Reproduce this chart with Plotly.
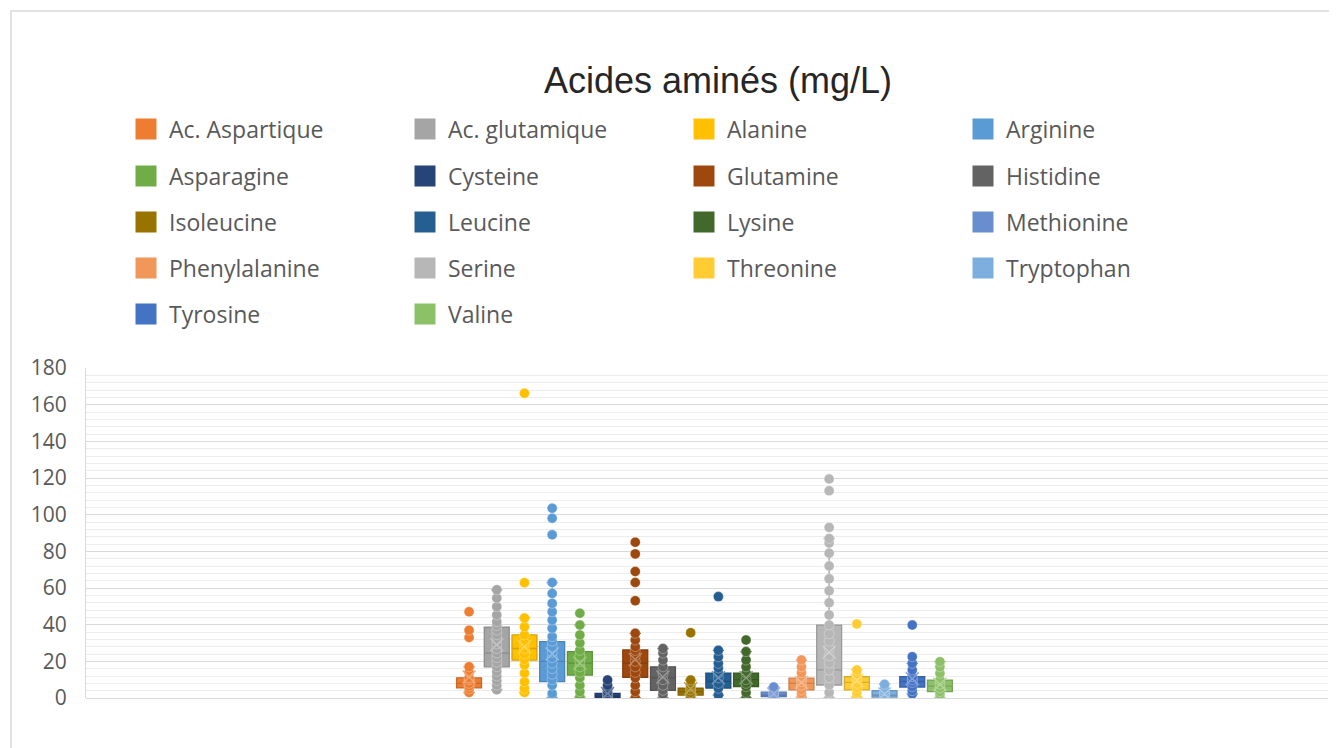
import plotly.graph_objects as go

# ---------------- data ----------------
amino_acids = ["Ac. Aspartique", "Ac. glutamique", "Alanine", "Arginine", "Asparagine",
               "Cysteine", "Glutamine", "Histidine", "Isoleucine", "Leucine", "Lysine",
               "Methionine", "Phenylalanine", "Serine", "Threonine", "Tryptophan",
               "Tyrosine", "Valine"]

colors = ["#ED7D31", "#A5A5A5", "#FFC000", "#5B9BD5", "#70AD47", "#264478",
          "#9E480E", "#636363", "#997300", "#255E91", "#43682B", "#698ED0",
          "#F1975A", "#B7B7B7", "#FFCD33", "#7CAFDD", "#4472C4", "#8CC168"]

q1 = [5.5, 17, 20.7, 8.9, 12.5, 0.3, 11.3, 4.2, 1.6, 5.4, 6.2, 0.7, 4.4, 7.1, 4.4, 0.5, 6, 3.5]
median = [8, 24.5, 27, 20, 19, 1, 19, 11, 3.5, 9, 10, 1.5, 8, 15.3, 8.5, 1.5, 9, 6.5]
q3 = [11, 38.7, 34.4, 30.7, 25.3, 2.5, 26.2, 17, 5.4, 13.6, 13.6, 3.2, 10.8, 39.8, 11.6, 4, 11.6, 9.8]
whisker_low = [3, 4.5, 3, 0, 0.5, 0, 0, 0, 0, 1.6, 0, 0, 0.5, 0, 0.5, 0, 2.2, 0]
whisker_high = [17, 59, 43.6, 63, 39.8, 5, 35.3, 27, 9.8, 26, 25.3, 6, 20.7, 87, 15.3, 7.5, 18.9, 19.8]
means = [11.5, 29, 28, 24, 19, 2.5, 21, 11.5, 5, 11, 11, 2.2, 8.5, 25, 9.5, 2.2, 10.5, 7.5]

pts_aspartique = [3, 5, 6.5, 8, 10, 11, 14, 17, 33, 37, 47]
pts_glutamique = [4.5, 7, 9.5, 12, 14.5, 17, 19.5, 22, 24.5, 27, 29.5, 32, 34.5, 37, 39.5,
                  41.6, 45.3, 49.8, 54.5, 59]
pts_alanine = [3, 5.3, 8.9, 13.5, 18, 21, 24, 27, 30, 34.4, 38.9, 43.6, 62.9, 166.2]
pts_arginine = [0, 2.5, 7, 10, 13, 16, 19, 22, 25, 28, 31, 33.5, 38, 42.5, 47, 51.6, 57, 63,
                89, 98, 103.5]
pts_asparagine = [0.5, 3.5, 7, 11, 14, 17, 20, 23, 26, 30, 34.4, 39.8, 46.2]
pts_cysteine = [0, 0.7, 1.5, 2.5, 3.5, 5, 7, 9.8]
pts_glutamine = [0, 3.5, 7, 11, 14, 17, 20, 23, 26, 28, 31.6, 35.3, 53, 63, 69, 78.6, 85]
pts_histidine = [0, 2, 4.2, 7, 10, 13.5, 17, 20.7, 24.5, 27]
pts_isoleucine = [0, 1.6, 3, 4.5, 6, 7, 9.8, 35.6]
pts_leucine = [1.6, 5.3, 8, 11, 13.5, 16.4, 18.9, 22.5, 26, 55.3]
pts_lysine = [0, 3, 6.2, 8, 10, 13.6, 17, 20.7, 25.3, 31.6]
pts_methionine = [0, 1, 2, 3.2, 4.5, 6]
pts_phenylalanine = [0.5, 2.5, 4.4, 7, 9, 10.8, 13.8, 17, 20.7]
pts_serine = [0, 3, 7.1, 11, 15.3, 19, 23, 27, 31, 35, 39.8, 45.3, 52, 58.5, 65, 72, 79,
              84.5, 87, 93, 113, 119.5]
pts_threonine = [0.5, 3, 5.5, 8, 11, 13, 15.3, 40.4]
pts_tryptophan = [0, 1, 2.5, 4, 5.5, 7.5]
pts_tyrosine = [2.2, 4, 6.2, 8.5, 10, 11.6, 15.3, 18.9, 22.5, 39.8]
pts_valine = [0, 2, 3.5, 5.5, 7.5, 9.8, 13.5, 17, 19.8]

points = [pts_aspartique, pts_glutamique, pts_alanine, pts_arginine, pts_asparagine,
          pts_cysteine, pts_glutamine, pts_histidine, pts_isoleucine, pts_leucine,
          pts_lysine, pts_methionine, pts_phenylalanine, pts_serine, pts_threonine,
          pts_tryptophan, pts_tyrosine, pts_valine]

y_ticks = [0, 20, 40, 60, 80, 100, 120, 140, 160, 180]


# ---------------- helpers ----------------
def shade(hex_color, f):
    h = hex_color.lstrip("#")
    r, g, b = (int(h[i:i + 2], 16) for i in (0, 2, 4))
    if f < 1:
        r, g, b = (int(c * f) for c in (r, g, b))
    else:
        t = f - 1
        r, g, b = (int(c + (255 - c) * t) for c in (r, g, b))
    return f"rgb({r},{g},{b})"


fig = go.Figure()

for i, name in enumerate(amino_acids):
    c = colors[i]
    fig.add_trace(go.Box(
        x=[name], q1=[q1[i]], median=[median[i]], q3=[q3[i]],
        lowerfence=[whisker_low[i]], upperfence=[whisker_high[i]],
        name=name, legendgroup=name, showlegend=False,
        fillcolor=c, line=dict(color=shade(c, 0.85), width=1.3),
        width=0.9, whiskerwidth=0.45, boxpoints=False, hoverinfo="skip",
    ))
    fig.add_trace(go.Scatter(
        x=[name] * len(points[i]), y=points[i], mode="markers",
        legendgroup=name, showlegend=False, hoverinfo="skip",
        marker=dict(size=10, color=c, line=dict(color="rgba(255,255,255,0.3)", width=1)),
    ))
    fig.add_trace(go.Scatter(
        x=[name], y=[means[i]], mode="markers", legendgroup=name,
        showlegend=False, hoverinfo="skip",
        marker=dict(symbol="x-thin", size=13, color=shade(c, 1.35),
                    line=dict(color=shade(c, 1.35), width=1.5)),
    ))

# legend-only entries (square swatches), 4 per row
row_legends = ["legend", "legend2", "legend3", "legend4", "legend5"]
for i, name in enumerate(amino_acids):
    c = colors[i]
    fig.add_trace(go.Scatter(
        x=[None], y=[None], mode="markers", name=name, legendgroup=name,
        legend=row_legends[i // 4], showlegend=True,
        marker=dict(symbol="square", size=16, color=c, line=dict(color=c, width=5)),
    ))

# ---------------- layout ----------------
# the page body adds an 8px offset; positions below are in screen pixels
OFF = 8
W, H = 1337 - OFF, 748 - OFF
plot_left, plot_right, plot_top, plot_bottom = 86, 1328, 368, 698
L = plot_left - OFF
R = W - (plot_right - OFF)
T = plot_top - OFF
B = H - (plot_bottom - OFF)
pw, ph = W - L - R, H - T - B


def px_to_paper_x(px):
    return (px - OFF - L) / pw


def px_to_paper_y(py):
    return (H - B - (py - OFF)) / ph


legend_rows_y = [129, 176, 222, 268, 314]
legend_font = dict(family="Open Sans, DejaVu Sans, sans-serif", size=23, color="#595959")
legend_layouts = {}
for k, key in enumerate(row_legends):
    legend_layouts[key] = dict(
        orientation="h", x=px_to_paper_x(123), xanchor="left",
        y=px_to_paper_y(legend_rows_y[k]), yanchor="middle",
        entrywidth=228, entrywidthmode="pixels", itemwidth=36,
        font=legend_font, bgcolor="rgba(0,0,0,0)", borderwidth=0,
        traceorder="normal", itemclick=False, itemdoubleclick=False,
    )

fig.update_layout(
    width=W, height=H,
    margin=dict(l=L, r=R, t=T, b=B, autoexpand=False),
    paper_bgcolor="white", plot_bgcolor="white",
    title=dict(text="Acides aminés (mg/L)", x=(718 - OFF) / W, xanchor="center",
               y=1 - (80 - OFF) / H, yanchor="middle", xref="container", yref="container",
               font=dict(family="Liberation Sans, Arial, sans-serif", size=36,
                         color="#262626")),
    showlegend=True,
    **legend_layouts,
)

fig.update_xaxes(
    type="category", categoryorder="array", categoryarray=amino_acids,
    range=[-13.83, 31.01], showticklabels=False, showgrid=False,
    zeroline=False, showline=False, ticks="", fixedrange=True,
)
fig.update_yaxes(
    range=[0, 180], tickvals=y_ticks, showgrid=True, gridcolor="#D9D9D9", gridwidth=1,
    minor=dict(dtick=4, showgrid=True, gridcolor="#EDEDED", gridwidth=1),
    zeroline=True, zerolinecolor="#D9D9D9", zerolinewidth=1,
    showline=True, linecolor="#D9D9D9", linewidth=1,
    ticks="", ticklabelstandoff=14,
    tickfont=dict(family="Open Sans, DejaVu Sans, sans-serif", size=21, color="#595959"),
    fixedrange=True,
)

# outer chart frame
fig.add_shape(type="rect", xref="paper", yref="paper",
              x0=px_to_paper_x(11), x1=px_to_paper_x(1360),
              y0=px_to_paper_y(770), y1=px_to_paper_y(11),
              line=dict(color="#D9D9D9", width=1.5), fillcolor="rgba(0,0,0,0)",
              layer="below")

fig.write_html("out.html")
